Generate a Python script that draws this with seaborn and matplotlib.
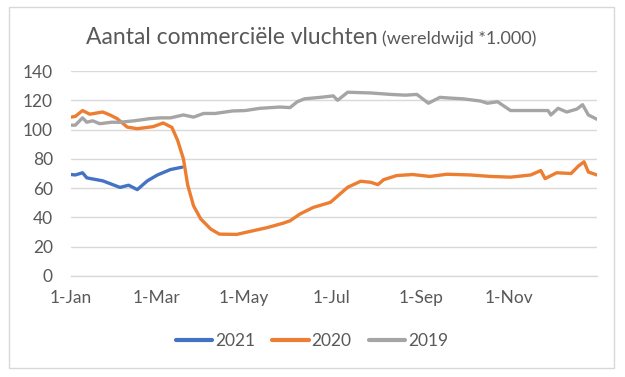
import pandas as pd
import numpy as np
import matplotlib
matplotlib.use('Agg')
import matplotlib.pyplot as plt
import seaborn as sns
from matplotlib.patches import Rectangle

# dag van het jaar (0 = 1 jan) en aantal vluchten (x 1.000)
dagen_2019 = [0, 3, 8, 11, 15, 20, 28, 34, 44, 55, 62, 69, 78, 85, 92, 100, 112, 121, 131,
              145, 152, 157, 162, 173, 182, 185, 192, 208, 222, 232, 240, 248, 256, 263,
              272, 284, 289, 296, 305, 319, 331, 333, 338, 344, 351, 355, 359, 365]
vluchten_2019 = [103, 103, 108, 105, 106, 104, 105, 105, 106, 107.5, 108, 108, 110, 108.5,
                 111, 111, 112.7, 113, 114.5, 115.4, 115, 119, 121, 122, 123, 120, 125.5,
                 125, 124, 123.5, 124, 118, 122, 121.5, 121, 119.5, 118, 119, 113, 113, 113,
                 110, 114.5, 112, 114, 117, 110, 107]

dagen_2020 = [0, 3, 8, 13, 22, 27, 32, 39, 46, 57, 64, 70, 74, 78, 81, 85, 90, 97, 103,
              115, 124, 136, 147, 152, 159, 168, 180, 192, 201, 208, 213, 217, 226, 237,
              249, 261, 277, 291, 305, 319, 326, 329, 337, 347, 352, 356, 359, 365]
vluchten_2020 = [108.5, 109, 113, 110.5, 112, 110, 107.5, 101.7, 100.6, 102, 104.5, 101.5,
                 92.6, 80, 62, 48, 39, 32, 28.6, 28.4, 30.4, 33, 36, 37.7, 42.4, 46.8, 50.3,
                 60.6, 64.7, 64, 62.4, 65.8, 68.6, 69.3, 68, 69.5, 69, 68, 67.5, 69, 72,
                 66.5, 70.5, 70, 75, 78, 71, 69]

dagen_2021 = [0, 3, 8, 11, 22, 34, 40, 46, 53, 60, 69, 77]
vluchten_2021 = [69.3, 69, 70.5, 67, 65, 60.5, 62, 59, 65, 69, 72.7, 74.3]

jaren = ['2021', '2020', '2019']
kleuren = {'2021': '#4472C4', '2020': '#ED7D31', '2019': '#A5A5A5'}

tick_dagen = [0, 59, 120, 181, 243, 304]
tick_labels = ['1-Jan', '1-Mar', '1-May', '1-Jul', '1-Sep', '1-Nov']

df = pd.concat([
    pd.DataFrame({'dag': dagen_2021, 'vluchten': vluchten_2021, 'jaar': '2021'}),
    pd.DataFrame({'dag': dagen_2020, 'vluchten': vluchten_2020, 'jaar': '2020'}),
    pd.DataFrame({'dag': dagen_2019, 'vluchten': vluchten_2019, 'jaar': '2019'}),
])

sns.set_style('white')
plt.rcParams['font.family'] = ['Lato', 'DejaVu Sans']
tekst = '#595959'
grid = '#D9D9D9'

fig = plt.figure(figsize=(6.25, 3.77), dpi=100)
ax = fig.add_axes([71 / 625, 1 - 276 / 377, 526 / 625, 205 / 377])

sns.lineplot(data=df, x='dag', y='vluchten', hue='jaar', hue_order=jaren,
             palette=kleuren, estimator=None, sort=True, linewidth=2.4, ax=ax, legend=False)

ax.set_xlim(0, 365)
ax.set_ylim(0, 140)
ax.set_yticks(range(0, 141, 20))
ax.set_xticks(tick_dagen)
ax.set_xticklabels(tick_labels)
ax.set_xlabel('')
ax.set_ylabel('')
ax.yaxis.grid(True, color=grid, linewidth=1)
ax.set_axisbelow(True)
for s in ['left', 'top', 'right']:
    ax.spines[s].set_visible(False)
ax.spines['bottom'].set_color(grid)
ax.spines['bottom'].set_linewidth(1)
ax.tick_params(axis='y', length=0, pad=13, labelsize=12.5, labelcolor=tekst)
ax.tick_params(axis='x', length=4, width=1, color=grid, pad=6, labelsize=12.5, labelcolor=tekst)

# legenda onderaan
handles = [plt.Line2D([], [], color=kleuren[j], linewidth=3) for j in jaren]
fig.legend(handles, jaren, loc='center', bbox_to_anchor=(312 / 625, 1 - 341 / 377), ncol=3,
           frameon=False, fontsize=12.5, labelcolor=tekst, handlelength=2.1,
           handletextpad=0.15, columnspacing=1.0)

# titel in twee delen
t1 = fig.text(86 / 625, 1 - 44 / 377, 'Aantal commerciële vluchten', fontsize=16.5,
              color=tekst, ha='left', va='baseline')
fig.canvas.draw()
bb = t1.get_window_extent()
fig.text((bb.x1 + 4) / 625, 1 - 44 / 377, '(wereldwijd *1.000)', fontsize=13,
         color=tekst, ha='left', va='baseline')

# kader rond de grafiek
fig.patches.append(Rectangle((9 / 625, 1 - 368 / 377), 605 / 625, 361 / 377,
                             transform=fig.transFigure, fill=False, edgecolor=grid, linewidth=1))

fig.savefig('out.png', dpi=100, facecolor='white')
